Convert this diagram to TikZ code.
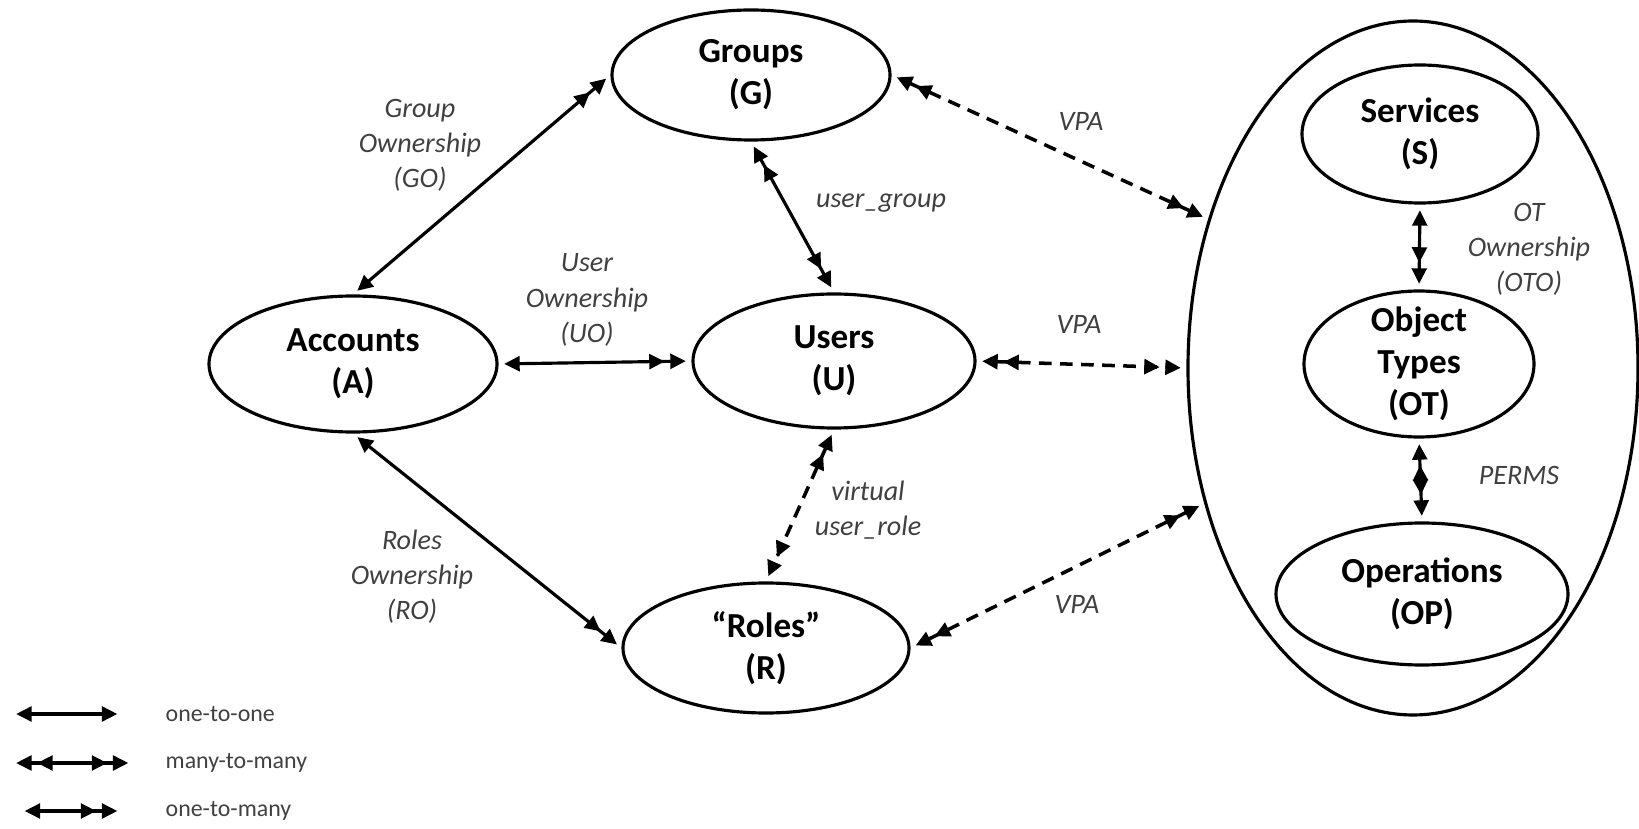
\documentclass[tikz,border=0pt]{standalone}
\usepackage{fontspec}
\setmainfont{Carlito}
\usetikzlibrary{arrows.meta,shapes.geometric}
\definecolor{labgray}{HTML}{404040}
\tikzset{
  ent/.style={ellipse,draw,line width=0.9pt,inner sep=0pt,align=center,font=\fontsize{10}{12}\selectfont\bfseries},
  rel/.style={align=center,text=labgray,font=\fontsize{8}{10}\selectfont\itshape},
  key/.style={anchor=west,inner sep=0pt,text=labgray,font=\fontsize{6.8}{8}\selectfont},
  lnk/.style={line width=0.9pt},
  vlnk/.style={line width=1pt,dash pattern=on 3.6pt off 2.4pt},
  >={Triangle[length=4.4pt,width=4.2pt,sep=1.6pt]}
}
\begin{document}
\begin{tikzpicture}
\useasboundingbox (0,0) rectangle (16.39,8.28);
%\draw (0,0) rectangle (16.39,8.28);

\draw (7.51,7.53) node[ent,minimum width=2.78cm,minimum height=1.30cm] (g) {Groups\\(G)};
\draw (3.53,4.64) node[ent,minimum width=2.88cm,minimum height=1.36cm] (a) {Accounts\\(A)};
\draw (8.34,4.67) node[ent,minimum width=2.82cm,minimum height=1.34cm] (u) {Users\\(U)};
\draw (7.66,1.80) node[ent,minimum width=2.86cm,minimum height=1.30cm] (r) {“Roles”\\(R)};

\draw (14.13,4.60) node[ent,minimum width=4.50cm,minimum height=6.94cm] (obj) {};
\draw (14.20,6.94) node[ent,minimum width=2.36cm,minimum height=1.38cm] (s) {Services\\(S)};
\draw (14.19,4.64) node[ent,inner ysep=-5pt,minimum width=2.30cm,minimum height=1.46cm] (ot) {Object\\Types\\(OT)};
\draw (14.22,2.34) node[ent,minimum width=2.92cm,minimum height=1.42cm] (op) {Operations\\(OP)};

\draw[lnk,<->>] (a.north) -- (g.west);
\draw[lnk,<->>] (a.east) -- (u.west);
\draw[lnk,<->>] (a.south) -- (r.west);
\draw[lnk,<<->>] (g.south) -- (u.north);
\draw[vlnk,<<->>] (u.south) -- (r.north);
\draw[vlnk,<<->>] (g.east) -- (obj.144);
\draw[vlnk,<<->>] (u.east) -- (obj.west);
\draw[vlnk,<<->>] (r.east) -- (obj.213);
\draw[lnk,<->>] (s.south) -- (ot.north);
\draw[lnk,<<->>] (ot.south) -- (op.north);

\draw (4.20,6.83) node[rel] (go) {Group\\Ownership\\(GO)};
\draw (5.87,5.28) node[rel] (uo) {User\\Ownership\\(UO)};
\draw (4.12,2.51) node[rel] (ro) {Roles\\Ownership\\(RO)};
\draw (8.81,6.25) node[rel] (ug) {user\_group};
\draw (8.68,3.18) node[rel] (ur) {virtual\\user\_role};
\draw (10.81,7.07) node[rel] (vpa1) {VPA};
\draw (10.79,5.04) node[rel] (vpa2) {VPA};
\draw (10.77,2.24) node[rel] (vpa3) {VPA};
\draw (15.29,5.79) node[rel] (oto) {OT\\Ownership\\(OTO)};
\draw (15.19,3.53) node[rel] (perms) {PERMS};

% legend
\coordinate (k1a) at (0.105,1.14);
\coordinate (k1b) at (1.23,1.14);
\coordinate (k2a) at (0.105,0.65);
\coordinate (k2b) at (1.34,0.65);
\coordinate (k3a) at (0.19,0.17);
\coordinate (k3b) at (1.23,0.17);
\draw[lnk,<->] (k1a) -- (k1b);
\draw[lnk,<<->>] (k2a) -- (k2b);
\draw[lnk,<->>] (k3a) -- (k3b);
\draw (1.65,1.14) node[key] (t1) {one-to-one};
\draw (1.65,0.65) node[key] (t2) {many-to-many};
\draw (1.65,0.17) node[key] (t3) {one-to-many};
\end{tikzpicture}
\end{document}
